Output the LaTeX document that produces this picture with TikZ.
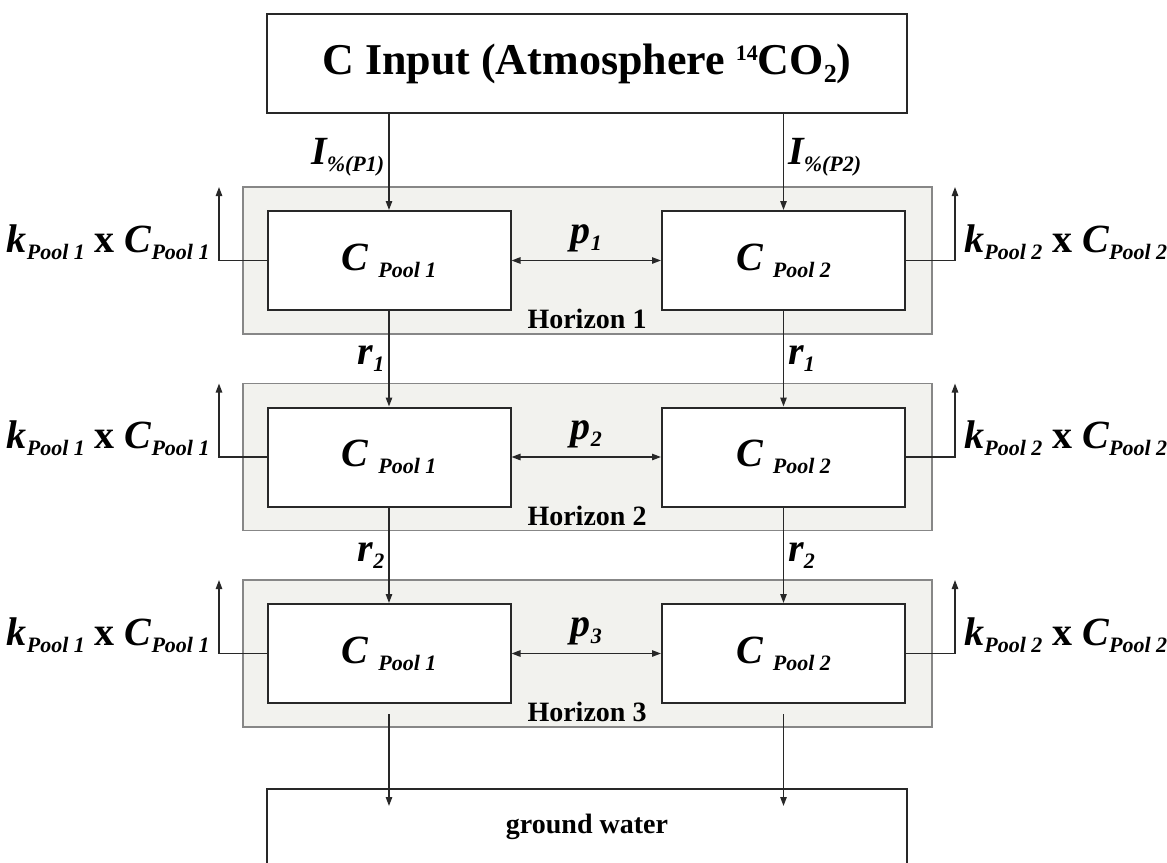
\documentclass[tikz,border=0pt]{standalone}
\usepackage{fontspec}
\setmainfont{Liberation Serif}
\usetikzlibrary{arrows.meta}
\definecolor{horfill}{RGB}{242,242,238}
\definecolor{horline}{RGB}{135,135,135}
\definecolor{boxline}{RGB}{40,40,40}
\newcommand{\sub}[1]{\raisebox{-3.5pt}{\fontsize{11}{13}\selectfont #1}}
\newcommand{\bigit}{\fontsize{20}{24}\selectfont\bfseries\itshape}

\begin{document}
\begin{tikzpicture}[x=0.5pt,y=-0.5pt,
    box/.style={draw=boxline,line width=1pt,fill=white,inner sep=0pt},
    horizon/.style={draw=horline,line width=0.8pt,fill=horfill,minimum width=344.5pt,minimum height=73.5pt},
    pool/.style={box,minimum width=121.5pt,minimum height=49.5pt,font=\bigit},
    flow/.style={line width=0.75pt,draw=boxline,-{Triangle[length=4.5pt,width=3.2pt]}},
    exch/.style={flow,{Triangle[length=4.5pt,width=3.2pt]}-{Triangle[length=4.5pt,width=3.2pt]}},
    lbl/.style={font=\bigit,inner sep=2pt}]
  \useasboundingbox (0,0) rectangle (1167,862);
  % atmosphere
  \node[box,minimum width=320pt,minimum height=49.5pt,font=\fontsize{22}{26}\selectfont\bfseries] (input) at (587,63.5)
    {C Input (Atmosphere \raisebox{7pt}{\fontsize{11}{13}\selectfont 14}CO\raisebox{-4pt}{\fontsize{13}{15}\selectfont 2})};
  % horizons
  \foreach \i/\t in {1/187,2/383.5,3/580}{
    \node[horizon] (hor-\i) at (587.5,\t+73.5) {};
    \node[pool] (pool-\i-1) at (389,\t+73.5) {C \sub{Pool 1}};
    \node[pool] (pool-\i-2) at (783.5,\t+73.5) {C \sub{Pool 2}};
    \node[font=\fontsize{14}{16}\selectfont\bfseries] (hor-lbl-\i) at (587,\t+132) {Horizon \i};
    \draw[exch] (pool-\i-1) -- node[lbl,above=2pt] (p-\i) {p\sub{\i}} (pool-\i-2);
    \coordinate (kout-\i-1) at (219,\t);
    \coordinate (kout-\i-2) at (955,\t);
    \draw[flow] (pool-\i-1.west) -| (kout-\i-1);
    \draw[flow] (pool-\i-2.east) -| (kout-\i-2);
    \node[lbl,anchor=base east] (k-\i-1) at (214,\t+65) {k\sub{Pool 1} {\upshape x} C\sub{Pool 1}};
    \node[lbl,anchor=base west] (k-\i-2) at (960,\t+65) {k\sub{Pool 2} {\upshape x} C\sub{Pool 2}};
  }
  % inputs and transport
  \draw[flow] (input.south -| pool-1-1) -- node[lbl,left,pos=0.45] (in-1) {I\sub{\%(P1)}} (pool-1-1);
  \draw[flow] (input.south -| pool-1-2) -- node[lbl,right,pos=0.45] (in-2) {I\sub{\%(P2)}} (pool-1-2);
  \foreach \i/\j in {1/2,2/3}{
    \draw[flow] (pool-\i-1) -- node[lbl,left] (r-\i-1) {r\sub{\i}} (pool-\j-1);
    \draw[flow] (pool-\i-2) -- node[lbl,right] (r-\i-2) {r\sub{\i}} (pool-\j-2);
  }
  % ground water
  \node[box,minimum width=320pt,minimum height=38pt,font=\fontsize{14}{16}\selectfont\bfseries] (gw) at (587,827) {ground water};
  \coordinate (leach-1) at (389,714);
  \coordinate (leach-2) at (783.5,714);
  \coordinate (gw-in-1) at (389,806);
  \coordinate (gw-in-2) at (783.5,806);
  \draw[flow] (leach-1) -- (gw-in-1);
  \draw[flow] (leach-2) -- (gw-in-2);
\end{tikzpicture}
\end{document}
